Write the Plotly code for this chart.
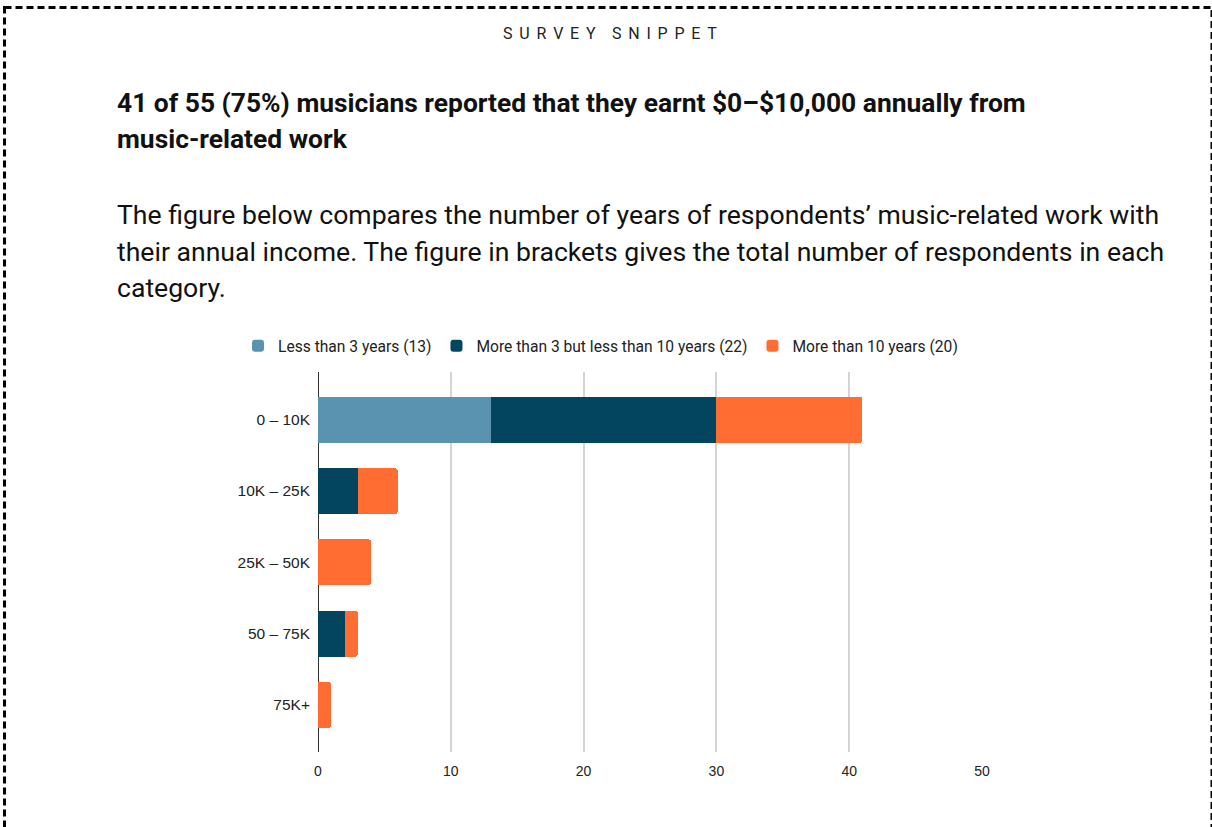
import plotly.graph_objects as go

# Income bands (rows) and respondent counts per experience group
income_bands = ["0 – 10K", "10K – 25K", "25K – 50K", "50 – 75K", "75K+"]
less_than_3 = [13, 0, 0, 0, 0]
three_to_ten = [17, 3, 0, 2, 0]
more_than_10 = [11, 3, 4, 1, 1]

series_names = [
    "Less than 3 years (13)",
    "More than 3 but less than 10 years (22)",
    "More than 10 years (20)",
]
series_values = [less_than_3, three_to_ten, more_than_10]
series_colors = ["#5a93b0", "#03445e", "#ff6d33"]

x_ticks = [0, 10, 20, 30, 40, 50]

W, H = 1212, 827
L, R, T, B = 318, 982, 372, 752  # plot area in pixels

TEXT_FONT = "Roboto"


def px(x):
    return (x - L) / (R - L)


def py(y):
    return (B - y) / (B - T)


fig = go.Figure()
for name, vals, color in zip(series_names, series_values, series_colors):
    fig.add_trace(go.Bar(
        y=income_bands, x=vals, name=name, orientation="h",
        marker=dict(color=color, line=dict(width=0)),
    ))

annotations = []
# Kicker line, letter-spaced
letter_gap = "\u2005\u2006"
kicker = letter_gap.join("SURVEY") + "\u2002\u2002" + letter_gap.join("SNIPPET")
annotations.append(dict(
    text=kicker, x=px(610), y=py(34), xref="paper", yref="paper",
    xanchor="center", yanchor="middle", showarrow=False,
    font=dict(family=TEXT_FONT, size=16, color="#222"),
))
# Headline
headline = [
    "41 of 55 (75%) musicians reported that they earnt $0–$10,000 annually from",
    "music-related work",
]
for i, line in enumerate(headline):
    annotations.append(dict(
        text="<b>" + line + "</b>", x=px(115), y=py(103 + 36 * i),
        xref="paper", yref="paper", xanchor="left", yanchor="middle",
        showarrow=False, font=dict(family=TEXT_FONT, size=26.4, color="#111"),
    ))
# Description
body = [
    "The figure below compares the number of years of respondents’ music-related work with",
    "their annual income. The figure in brackets gives the total number of respondents in each",
    "category.",
]
for i, line in enumerate(body):
    annotations.append(dict(
        text=line, x=px(115), y=py(215 + 36 * i),
        xref="paper", yref="paper", xanchor="left", yanchor="middle",
        showarrow=False, font=dict(family=TEXT_FONT, size=26.6, color="#111"),
    ))

# Dashed frame around the snippet
shapes = [dict(
    type="rect", xref="paper", yref="paper",
    x0=px(4.5), x1=px(1212), y0=py(7.5), y1=py(860),
    line=dict(color="#000", width=3, dash="7px,4px"),
    fillcolor="rgba(0,0,0,0)", layer="above",
)]

fig.update_layout(
    width=W, height=H,
    margin=dict(l=L, r=W - R, t=T, b=H - B, pad=0, autoexpand=False),
    paper_bgcolor="white", plot_bgcolor="white",
    barmode="stack", bargap=0.354, barcornerradius=3,
    showlegend=True,
    legend=dict(
        orientation="h", xref="paper", x=px(238), y=py(346),
        xanchor="left", yanchor="middle",
        font=dict(family=TEXT_FONT, size=15.6, color="#222"),
        traceorder="normal", itemclick=False, itemdoubleclick=False,
    ),
    xaxis=dict(
        range=[0, 50], tickvals=x_ticks, ticktext=[str(v) for v in x_ticks],
        showgrid=True, gridcolor="#d4d4d4", gridwidth=1.5,
        zeroline=True, zerolinecolor="#333", zerolinewidth=1.2,
        showline=False, ticks="", ticklabelstandoff=9,
        tickfont=dict(family="Liberation Sans, Arial", size=14, color="#222"),
        fixedrange=True, automargin=False,
    ),
    yaxis=dict(
        type="category", categoryorder="array", categoryarray=income_bands,
        range=[4.66, -0.67], showgrid=False, zeroline=False, showline=False,
        ticks="", ticklabelstandoff=7,
        tickfont=dict(family="Liberation Sans, Arial", size=15.5, color="#222"),
        fixedrange=True, automargin=False,
    ),
    annotations=annotations,
    shapes=shapes,
)

fig.write_html("out.html", config={"displayModeBar": False})
